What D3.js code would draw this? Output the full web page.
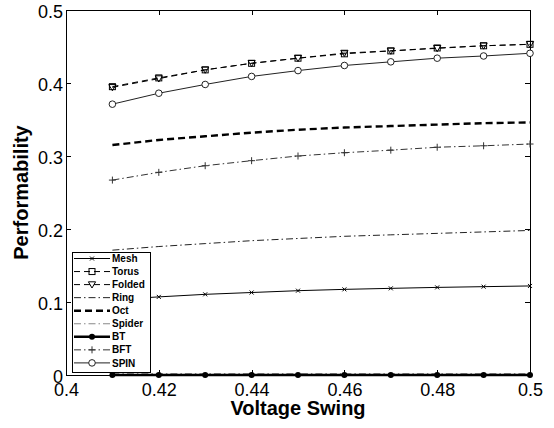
<!DOCTYPE html>
<html lang="en">
<head>
<meta charset="UTF-8">
<title>Performability vs Voltage Swing</title>
<script src="https://d3js.org/d3.v7.min.js"></script>
<style>
  body { margin: 0; background: #fff; }
  svg { font-family: "Liberation Sans", Arial, sans-serif; }
  .axis path, .axis line { stroke: #000; shape-rendering: crispEdges; }
  .axis text { font-size: 18px; fill: #000; }
</style>
</head>
<body>
<svg width="554" height="428"></svg>
<script>
// voltage swing sample points
var voltage = [0.41, 0.42, 0.43, 0.44, 0.45, 0.46, 0.47, 0.48, 0.49, 0.50];

// performability per topology
var mesh   = [0.103, 0.107, 0.1105, 0.113, 0.1155, 0.1173, 0.1187, 0.120, 0.121, 0.122];
var torus  = [0.395, 0.407, 0.418, 0.427, 0.434, 0.440, 0.444, 0.448, 0.451, 0.453];
var folded = [0.394, 0.406, 0.418, 0.427, 0.434, 0.441, 0.444, 0.4475, 0.451, 0.453];
var ring   = [0.171, 0.176, 0.180, 0.184, 0.187, 0.190, 0.192, 0.194, 0.196, 0.198];
var oct    = [0.315, 0.322, 0.327, 0.332, 0.336, 0.339, 0.341, 0.343, 0.345, 0.346];
var spider = [0.002, 0.002, 0.002, 0.002, 0.002, 0.002, 0.002, 0.002, 0.002, 0.002];
var bt     = [0, 0, 0, 0, 0, 0, 0, 0, 0, 0];
var bft    = [0.267, 0.2776, 0.2867, 0.2936, 0.300, 0.3045, 0.308, 0.312, 0.314, 0.3164];
var spin   = [0.371, 0.386, 0.398, 0.409, 0.417, 0.424, 0.429, 0.434, 0.437, 0.4407];

var xTicks = [0.4, 0.42, 0.44, 0.46, 0.48, 0.5];
var yTicks = [0, 0.1, 0.2, 0.3, 0.4, 0.5];

var series = [
  { name: "Mesh",   values: mesh,   dash: null,            width: 1,   color: "#000", marker: "x" },
  { name: "Torus",  values: torus,  dash: "6,4",           width: 1,   color: "#000", marker: "square" },
  { name: "Folded", values: folded, dash: "6,4",           width: 1,   color: "#000", marker: "tri" },
  { name: "Ring",   values: ring,   dash: "7,3,1.5,3",     width: 1,   color: "#222", marker: null },
  { name: "Oct",    values: oct,    dash: "7,4",           width: 2.4, color: "#000", marker: null },
  { name: "Spider", values: spider, dash: "7,3,1.5,3",     width: 1,   color: "#888", marker: null },
  { name: "BT",     values: bt,     dash: null,            width: 2.4, color: "#000", marker: "dot" },
  { name: "BFT",    values: bft,    dash: "7,3,1.5,3",     width: 1,   color: "#333", marker: "plus" },
  { name: "SPIN",   values: spin,   dash: null,            width: 1,   color: "#222", marker: "circle" }
];

var plot = { left: 66, right: 530, top: 10, bottom: 375 };

var svg = d3.select("svg");

var x = d3.scaleLinear().domain([0.4, 0.5]).range([plot.left, plot.right]);
var y = d3.scaleLinear().domain([0, 0.5]).range([plot.bottom, plot.top]);

var fmt = function(d) { return d === 0 ? "0" : d3.format("")(+d.toFixed(2)); };

// axes with inward ticks
svg.append("g").attr("class", "axis")
  .attr("transform", "translate(0," + plot.bottom + ")")
  .call(d3.axisBottom(x).tickValues(xTicks).tickSize(-5).tickPadding(8).tickFormat(fmt))
  .call(g => g.select(".domain").remove());

svg.append("g").attr("class", "axis")
  .attr("transform", "translate(" + plot.left + ",0)")
  .call(d3.axisLeft(y).tickValues(yTicks).tickSize(-5).tickPadding(3).tickFormat(fmt))
  .call(g => g.select(".domain").remove())
  .call(g => g.selectAll("text").attr("dy", "0.4em"));

svg.append("g").attr("class", "axis")
  .attr("transform", "translate(0," + plot.top + ")")
  .call(d3.axisTop(x).tickValues(xTicks).tickSize(-5).tickFormat(""))
  .call(g => g.select(".domain").remove());

svg.append("g").attr("class", "axis")
  .attr("transform", "translate(" + plot.right + ",0)")
  .call(d3.axisRight(y).tickValues(yTicks).tickSize(-5).tickFormat(""))
  .call(g => g.select(".domain").remove());

// frame
svg.append("rect")
  .attr("x", plot.left).attr("y", plot.top)
  .attr("width", plot.right - plot.left).attr("height", plot.bottom - plot.top)
  .attr("fill", "none").attr("stroke", "#000").attr("stroke-width", 1)
  .attr("shape-rendering", "crispEdges");

// axis titles
svg.append("text")
  .attr("x", (plot.left + plot.right) / 2).attr("y", 415)
  .attr("text-anchor", "middle")
  .attr("font-size", 20).attr("font-weight", "bold")
  .text("Voltage Swing");

svg.append("text")
  .attr("transform", "translate(28," + ((plot.top + plot.bottom) / 2) + ") rotate(-90)")
  .attr("text-anchor", "middle")
  .attr("font-size", 20).attr("font-weight", "bold")
  .text("Performability");

function drawMarker(g, type, cx, cy, color) {
  if (type === "circle") {
    g.append("circle").attr("cx", cx).attr("cy", cy).attr("r", 3.3)
      .attr("fill", "#fff").attr("stroke", color).attr("stroke-width", 1);
  } else if (type === "dot") {
    g.append("circle").attr("cx", cx).attr("cy", cy).attr("r", 3)
      .attr("fill", "#000");
  } else if (type === "square") {
    g.append("rect").attr("x", cx - 3).attr("y", cy - 3).attr("width", 6).attr("height", 6)
      .attr("fill", "none").attr("stroke", color).attr("stroke-width", 1);
  } else if (type === "tri") {
    g.append("path")
      .attr("d", "M" + (cx - 3.6) + "," + (cy - 2.8) + "L" + (cx + 3.6) + "," + (cy - 2.8) + "L" + cx + "," + (cy + 3.4) + "Z")
      .attr("fill", "none").attr("stroke", color).attr("stroke-width", 1);
  } else if (type === "plus") {
    g.append("path")
      .attr("d", "M" + (cx - 3.5) + "," + cy + "H" + (cx + 3.5) + "M" + cx + "," + (cy - 3.5) + "V" + (cy + 3.5))
      .attr("stroke", color).attr("stroke-width", 1);
  } else if (type === "x") {
    g.append("path")
      .attr("d", "M" + (cx - 2) + "," + (cy - 2) + "L" + (cx + 2) + "," + (cy + 2) + "M" + (cx - 2) + "," + (cy + 2) + "L" + (cx + 2) + "," + (cy - 2))
      .attr("stroke", color).attr("stroke-width", 1);
  }
}

var line = d3.line().x((d, i) => x(voltage[i])).y(d => y(d));

var lines = svg.append("g");
series.forEach(s => {
  var g = lines.append("g");
  g.append("path")
    .attr("d", line(s.values))
    .attr("fill", "none")
    .attr("stroke", s.color)
    .attr("stroke-width", s.width)
    .attr("stroke-dasharray", s.dash);
  if (s.marker) {
    s.values.forEach((v, i) => drawMarker(g, s.marker, x(voltage[i]), y(v), s.color));
  }
});

// legend
var lg = { x: 72, y: 252, w: 78, h: 120, row: 13.05 };
var legend = svg.append("g");
legend.append("rect")
  .attr("x", lg.x).attr("y", lg.y).attr("width", lg.w).attr("height", lg.h)
  .attr("fill", "#fff").attr("stroke", "#000").attr("stroke-width", 1)
  .attr("shape-rendering", "crispEdges");

series.forEach((s, i) => {
  var cy = lg.y + 6.5 + i * lg.row;
  var g = legend.append("g");
  g.append("line")
    .attr("x1", lg.x + 2).attr("x2", lg.x + 38)
    .attr("y1", cy).attr("y2", cy)
    .attr("stroke", s.color).attr("stroke-width", s.width)
    .attr("stroke-dasharray", s.dash);
  if (s.marker) drawMarker(g, s.marker, lg.x + 20, cy, s.color);
  g.append("text")
    .attr("x", lg.x + 40).attr("y", cy + 3.6)
    .attr("font-size", 10).attr("font-weight", "bold")
    .text(s.name);
});
</script>
</body>
</html>
